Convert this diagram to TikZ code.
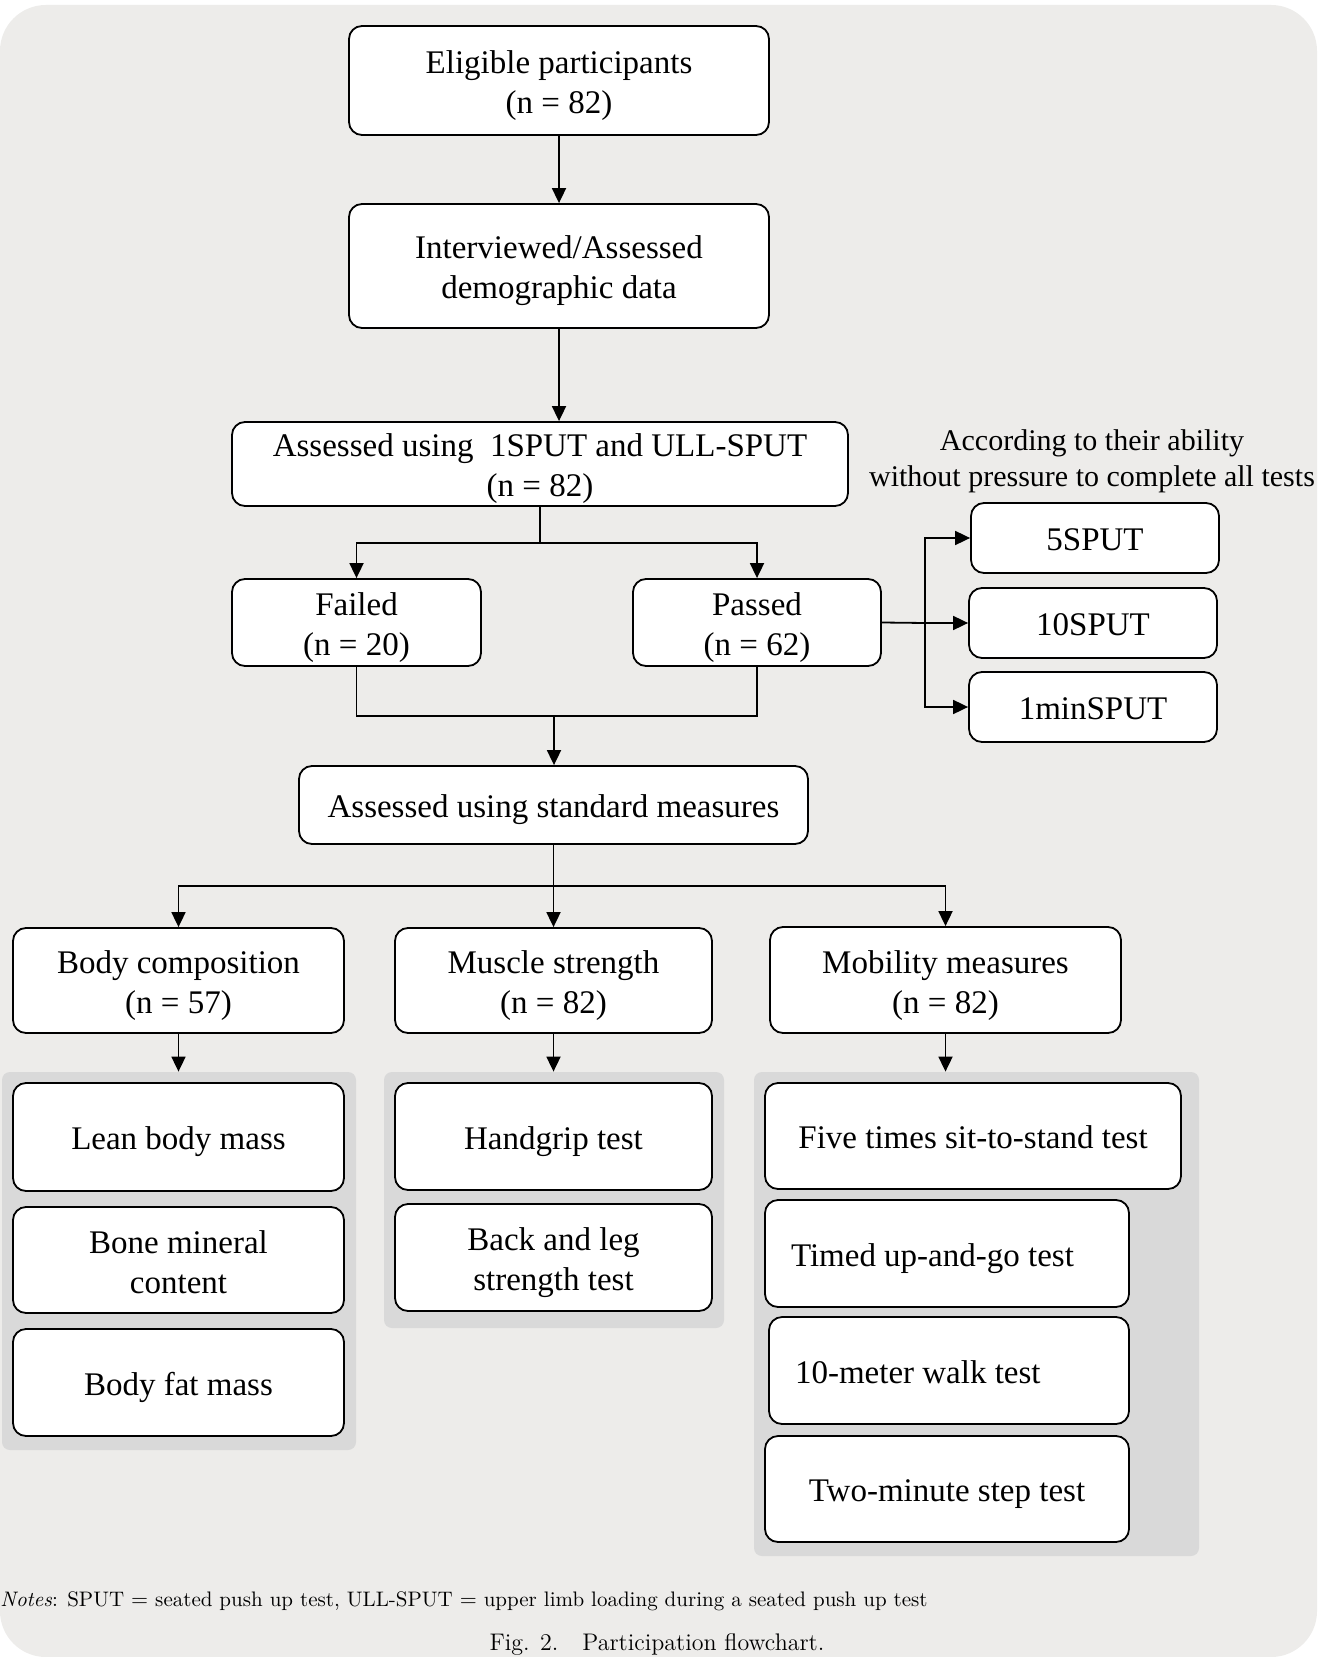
\documentclass[tikz,border=0pt]{standalone}
\usepackage{fontspec}
\usepackage{xcolor}
\usepackage{tikz}
\usetikzlibrary{arrows.meta}
\newfontfamily\boxfont{Liberation Serif}
\definecolor{bgfill}{HTML}{EDECEA}
\definecolor{panelfill}{HTML}{D9D9D9}

\begin{document}
\begin{tikzpicture}[x=0.5pt, y=-0.5pt,
  box/.style={draw, line width=0.9pt, rounded corners=6.5pt, fill=white, align=center,
    inner sep=0pt, text height=12.5pt, text depth=0pt,
    font=\boxfont\fontsize{16.5pt}{20pt}\selectfont},
  twoline/.style={box, text height=33pt},
  lbox/.style={box, align=flush left, inner xsep=13pt, text width=#1},
  panel/.style={fill=panelfill, rounded corners=4pt, inner sep=0pt},
  link/.style={line width=0.9pt},
  arr/.style={link, -{Triangle[length=7.5pt, width=7pt]}}]
  \useasboundingbox (0,0) rectangle (1328,1657);

  % ---- backdrop ----
  \fill[white] (0,0) rectangle (1328,1657);
  \fill[bgfill, rounded corners=23pt] (0,5) rectangle (1317,1657);

  % ---- recruitment ----
  \node[twoline, minimum width=210pt, minimum height=54.5pt] (elig) at (559,80.5) {Eligible participants\\(n = 82)};
  \node[twoline, minimum width=210pt, minimum height=62pt] (demo) at (559,266) {Interviewed/Assessed\\demographic data};
  \node[twoline, minimum width=308pt, minimum height=42pt] (sput) at (540,464) {Assessed using\ \ 1SPUT and ULL-SPUT\\(n = 82)};
  \node[twoline, minimum width=124.5pt, minimum height=43.5pt] (failed) at (356.5,622.5) {Failed\\(n = 20)};
  \node[twoline, minimum width=124pt, minimum height=43.5pt] (passed) at (757,622.5) {Passed\\(n = 62)};

  % ---- extra push up tests ----
  \node[align=center, inner sep=0pt, font=\boxfont\fontsize{15pt}{18pt}\selectfont] (ability) at (1092,461)
    {According to their ability\\without pressure to complete all tests};
  \node[box, minimum width=124pt, minimum height=35pt] (s5) at (1095,538) {5SPUT};
  \node[box, minimum width=124pt, minimum height=35pt] (s10) at (1093,623) {10SPUT};
  \node[box, minimum width=124pt, minimum height=35pt] (s1min) at (1093,707) {1minSPUT};

  % ---- standard measures ----
  \node[box, minimum width=254.5pt, minimum height=39pt] (std) at (553.5,805) {Assessed using standard measures};
  \node[twoline, minimum width=165.5pt, minimum height=52.5pt] (body) at (178.5,980.5) {Body composition\\(n = 57)};
  \node[twoline, minimum width=158.5pt, minimum height=52.5pt] (muscle) at (553.5,980.5) {Muscle strength\\(n = 82)};
  \node[twoline, minimum width=175.5pt, minimum height=53pt] (mob) at (945.5,980) {Mobility measures\\(n = 82)};

  % ---- grey panels ----
  \node[panel, minimum width=177pt, minimum height=189pt] (pnl1) at (179,1261) {};
  \node[panel, minimum width=170pt, minimum height=128pt] (pnl2) at (554,1200) {};
  \node[panel, minimum width=222.5pt, minimum height=242pt] (pnl3) at (976.5,1314) {};

  \node[box, minimum width=165.5pt, minimum height=54pt] (lean) at (178.5,1137) {Lean body mass};
  \node[twoline, minimum width=165.5pt, minimum height=53pt] (bone) at (178.5,1260) {Bone mineral\\content};
  \node[box, minimum width=165.5pt, minimum height=53.5pt] (fat) at (178.5,1382.5) {Body fat mass};

  \node[box, minimum width=158.5pt, minimum height=53.5pt] (grip) at (553.5,1136.5) {Handgrip test};
  \node[twoline, minimum width=158.5pt, minimum height=53.5pt] (backleg) at (553.5,1257.5) {Back and leg\\strength test};

  \node[box, minimum width=208pt, minimum height=53pt] (five) at (973,1136) {Five times sit-to-stand test};
  \node[lbox=156pt, minimum height=53.5pt] (timed) at (947,1253.5) {Timed up-and-go test};
  \node[lbox=154pt, minimum height=53.5pt] (walk) at (949,1370.5) {10-meter walk test};
  \node[box, minimum width=182pt, minimum height=53pt] (steptest) at (947,1489) {Two-minute step test};

  % ---- connectors ----
  \draw[arr] (elig) -- (demo);
  \draw[arr] (demo.south) -- (demo.south |- sput.north);
  \draw[arr] (sput.south) -- ++(0,36) -| (failed.north);
  \draw[arr] (sput.south) -- ++(0,36) -| (passed.north);
  \draw[link] (failed.south) -- ++(0,49) -| (passed.south);
  \coordinate (join) at (554,715);
  \draw[arr] (join) -- (join |- std.north);

  \coordinate (fork) at (925,623);
  \draw[link] (passed.east) -- (fork);
  \draw[arr] (fork) |- (s5.west);
  \draw[arr] (fork) -- (s10.west);
  \draw[arr] (fork) |- (s1min.west);

  \draw[arr] (std.south) -- ++(0,41) -| (body.north);
  \draw[arr] (std.south) -- ++(0,41) -| (mob.north);
  \draw[arr] (std) -- (muscle);
  \draw[arr] (body.south) -- (body.south |- pnl1.north);
  \draw[arr] (muscle.south) -- (muscle.south |- pnl2.north);
  \draw[arr] (mob.south) -- (mob.south |- pnl3.north);

  % ---- notes and caption ----
  \node[anchor=west, inner sep=0pt, font=\fontsize{10.5pt}{12pt}\selectfont] (notes) at (0,1601)
    {\textit{Notes}: SPUT $=$ seated push up test, ULL-SPUT $=$ upper limb loading during a seated push up test};
  \node[inner sep=0pt, font=\fontsize{12pt}{14pt}\selectfont] (caption) at (657,1644) {Fig. 2.\quad Participation flowchart.};
\end{tikzpicture}
\end{document}
